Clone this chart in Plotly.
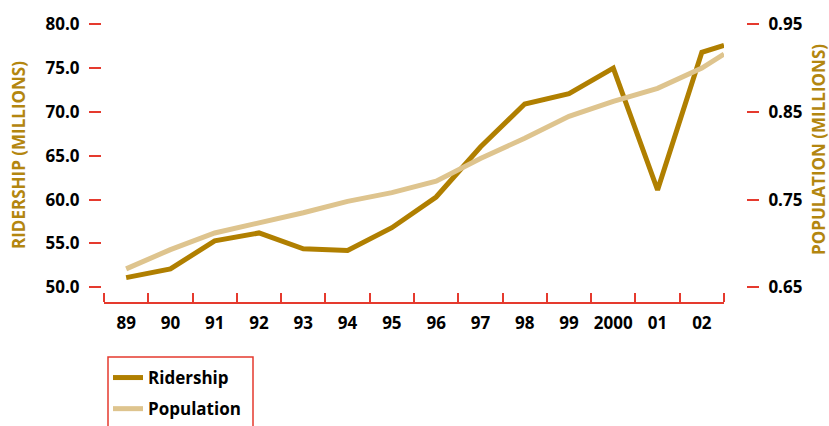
import plotly.graph_objects as go

# Annual ridership and service-area population, 1989-2002
years = [1989, 1990, 1991, 1992, 1993, 1994, 1995, 1996, 1997, 1998, 1999, 2000, 2001, 2002, 2002.5]
ridership = [51.1, 52.1, 55.3, 56.2, 54.4, 54.2, 56.8, 60.3, 66.0, 70.9, 72.1, 75.0, 61.1, 76.8, 77.6]
population = [0.671, 0.693, 0.712, 0.723, 0.735, 0.748, 0.758, 0.771, 0.797, 0.820, 0.845, 0.862, 0.877, 0.900, 0.916]

year_ticks = [1989, 1990, 1991, 1992, 1993, 1994, 1995, 1996, 1997, 1998, 1999, 2000, 2001, 2002]
year_labels = ["89", "90", "91", "92", "93", "94", "95", "96", "97", "98", "99", "2000", "01", "02"]
year_bounds = [y - 0.5 for y in year_ticks] + [2002.5]

left_ticks = [50, 55, 60, 65, 70, 75, 80]
right_ticks = [0.65, 0.75, 0.85, 0.95]

W, H = 829, 426
GOLD = "#B07F00"
TAN = "#DEC48E"
TITLE = "#B3860F"
RED = "#E53A2E"
FONT = "Open Sans"

fig = go.Figure()
fig.add_trace(go.Scatter(
    x=years, y=ridership, name="Ridership", mode="lines", legendgroup="ridership",
    line=dict(color=GOLD, width=5), legendrank=1, yaxis="y",
))
fig.add_trace(go.Scatter(
    x=years, y=population, name="Population", mode="lines", legendgroup="population",
    line=dict(color=TAN, width=5), legendrank=2, yaxis="y2",
))

x0, x1 = 104 / W, 724 / W
ytop, ybot = 20, 302
dom = [1 - ybot / H, 1 - ytop / H]
ppu = (287.3 - 24.3) / 30.0
lo = 50 - (ybot - 287.3) / ppu
hi = 80 + (24.3 - ytop) / ppu

tickfont = dict(family=FONT, size=17, color="#000000", weight="bold")

fig.update_layout(
    width=W, height=H,
    margin=dict(l=0, r=0, t=0, b=0, autoexpand=False),
    paper_bgcolor="white", plot_bgcolor="white",
    showlegend=True,
    xaxis=dict(
        domain=[x0, x1], range=[1988.5, 2002.5], automargin=False,
        showgrid=False, zeroline=False,
        showline=True, linecolor=RED, linewidth=1.5,
        tickmode="array", tickvals=year_ticks, ticktext=year_labels,
        ticks="", tickfont=tickfont, ticklabelstandoff=5,
        minor=dict(tickmode="array", tickvals=year_bounds, ticks="inside",
                   ticklen=9, tickwidth=1.5, tickcolor=RED, showgrid=False),
    ),
    yaxis=dict(
        domain=dom, range=[lo, hi], automargin=False,
        anchor="free", position=101 / W,
        showgrid=False, zeroline=False, showline=False,
        tickmode="array", tickvals=left_ticks, tickformat=".1f",
        ticks="outside", ticklen=12, tickwidth=1.5, tickcolor=RED,
        tickfont=tickfont, ticklabelstandoff=6,
    ),
    yaxis2=dict(
        domain=dom, range=[0.65 - (50 - lo) / 100, 0.65 + (hi - 50) / 100],
        overlaying="y", side="right", automargin=False,
        anchor="free", position=746 / W,
        showgrid=False, zeroline=False, showline=False,
        tickmode="array", tickvals=right_ticks, tickformat=".2f",
        ticks="outside", ticklen=12, tickwidth=1.5, tickcolor=RED,
        tickfont=tickfont, ticklabelstandoff=6,
    ),
    legend=dict(
        x=108 / W, y=1 - 360 / H, xanchor="left", yanchor="top",
        bgcolor="rgba(0,0,0,0)", borderwidth=0,
        font=dict(family=FONT, size=17, color="#000000", weight="bold"),
        traceorder="grouped", tracegroupgap=6,
    ),
    annotations=[
        dict(text="RIDERSHIP (MILLIONS)", x=18 / W, y=1 - 155 / H,
             xref="paper", yref="paper", xanchor="center", yanchor="middle",
             showarrow=False, textangle=-90,
             font=dict(family=FONT, size=17, color=TITLE, weight="bold")),
        dict(text="POPULATION (MILLIONS)", x=818 / W, y=1 - 150 / H,
             xref="paper", yref="paper", xanchor="center", yanchor="middle",
             showarrow=False, textangle=-90,
             font=dict(family=FONT, size=17, color=TITLE, weight="bold")),
    ],
    shapes=[
        dict(type="rect", xref="paper", yref="paper",
             x0=108 / W, x1=253 / W, y0=-0.1, y1=1 - 357 / H,
             line=dict(color=RED, width=1.5), fillcolor="rgba(0,0,0,0)"),
    ],
)

fig.write_html("out.html")
